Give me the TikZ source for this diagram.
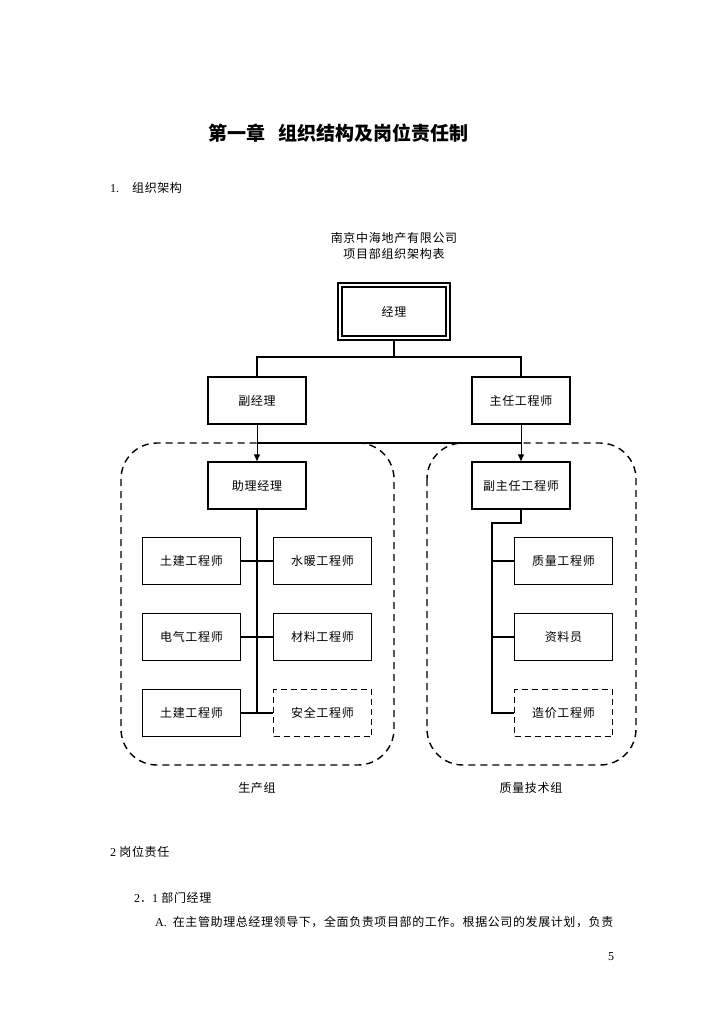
\documentclass[tikz,border=0pt]{standalone}
\usepackage{fontspec}
\setmainfont{Liberation Serif}
\newfontfamily\cjk[LetterSpace=6]{Noto Sans CJK SC}
\newfontfamily\cjkbody[LetterSpace=5]{Noto Sans CJK SC}
\newfontfamily\cjkhead{Noto Sans CJK SC}
\usetikzlibrary{arrows.meta,positioning}

\begin{document}
\begin{tikzpicture}[
    x=1pt, y=-1pt,
    font=\cjk\fontsize{12}{14}\selectfont,
    box/.style={
        draw,
        line width=1.4pt,
        minimum width=98pt,
        minimum height=47pt,
        inner sep=0pt
    },
    dbox/.style={box, dash pattern=on 6pt off 4pt},
    topbox/.style={box, double, line width=1.4pt, double distance=2.6pt,
        minimum width=108pt, minimum height=53pt},
    group/.style={draw, line width=1.4pt, dash pattern=on 7pt off 5pt, rounded corners=36pt},
    para/.style={font=\cjkbody\fontsize{12}{14}\selectfont, anchor=west, inner sep=0pt},
    link/.style={line width=1.3pt},
    trunk/.style={line width=2.2pt},
    arrow/.style={-{Triangle[length=7pt,width=6pt]}, line width=0.9pt}
]
\useasboundingbox (0,0) rectangle (724,1024);

% heading and captions
\node (title) at (338,133) {\cjkhead\bfseries\fontsize{19}{22}\selectfont 第一章\hspace{13pt}组织结构及岗位责任制};
\node[para] (sec1) at (110,188) {{\rmfamily 1.}\hspace{13pt}组织架构};
\node (corp) at (394,238) {南京中海地产有限公司};
\node (chart) at (394,254) {项目部组织架构表};

% groups
\draw[group] (121,443) rectangle (394,765);
\draw[group] (427,443) rectangle (636,765);

% boxes
\node[topbox] (mgr) at (394,311.5) {经理};
\node[box] (vmgr) at (257,400.5) {副经理};
\node[box] (ceng) at (521,400.5) {主任工程师};
\node[box] (amgr) at (257,485.5) {助理经理};
\node[box] (vceng) at (521,485.5) {副主任工程师};

\node[box] (civil) at (191.5,561) {土建工程师};
\node[box] (hvac) at (322.5,561) {水暖工程师};
\node[box] (elec) at (191.5,637) {电气工程师};
\node[box] (matl) at (322.5,637) {材料工程师};
\node[box] (civilb) at (191.5,713) {土建工程师};
\node[dbox] (safety) at (322.5,713) {安全工程师};

\node[box] (qual) at (563.5,561) {质量工程师};
\node[box] (docs) at (563.5,637) {资料员};
\node[dbox] (cost) at (563.5,713) {造价工程师};

\node (prod) at (257,788) {生产组};
\node (qtech) at (531,788) {质量技术组};

% connectors
\coordinate (split) at (394,357);
\coordinate (barL) at (257,443);
\coordinate (barR) at (521,443);
\coordinate (ltrunk) at (257,713);
\coordinate (rtop) at (492,523);
\coordinate (rtrunk) at (492,713);

\draw[link] (mgr.south) -- (split);
\draw[link] (vmgr.north) |- (split) -| (ceng.north);
\draw[arrow] (vmgr.south) -- (amgr.north);
\draw[arrow] (ceng.south) -- (vceng.north);
\draw[link] (barL) -- (barR);

\draw[trunk] (amgr.south) -- (ltrunk);
\draw[link] (civil.east) -- (hvac.west);
\draw[link] (elec.east) -- (matl.west);
\draw[link] (civilb.east) -- (safety.west);

\draw[link] (vceng.south) |- (rtop) -- (rtrunk) -- (cost.west);
\draw[link] (qual.west) -- (qual.west -| rtop);
\draw[link] (docs.west) -- (docs.west -| rtop);

% text below
\node[para] (sec2) at (110,852) {{\rmfamily 2} 岗位责任};
\node[para] (sec21) at (134,898) {{\rmfamily 2}．{\rmfamily 1} 部门经理};
\node[para] (itemA) at (155,922) {{\rmfamily A.}\hspace{6pt}在主管助理总经理领导下，全面负责项目部的工作。根据公司的发展计划，负责};
\node[font=\rmfamily\fontsize{12}{14}\selectfont] (page) at (611,957) {5};
\end{tikzpicture}
\end{document}
